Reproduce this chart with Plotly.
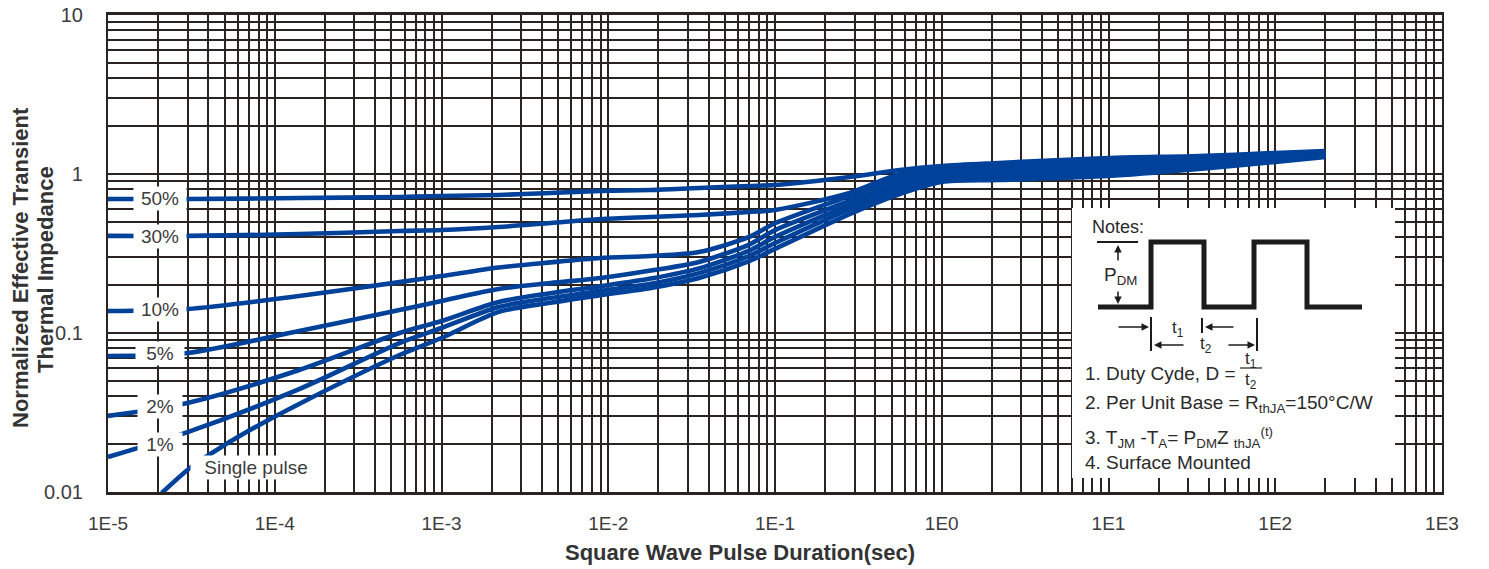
import plotly.graph_objects as go

# ---------------- data ----------------
t_common = [1e-5, 3e-5, 1.4e-4, 5.6e-4, 1e-3, 2.2e-3, 4.5e-3, 9e-3, 1.8e-2, 3.5e-2,
            7e-2, 0.1, 0.28, 0.56, 1, 2.2, 10, 35, 100, 200]

z_50 = [0.696, 0.696, 0.706, 0.717, 0.727, 0.738, 0.760, 0.782, 0.793, 0.817,
        0.840, 0.853, 0.957, 1.060, 1.123, 1.173, 1.261, 1.298, 1.355, 1.395]
z_30 = [0.408, 0.408, 0.419, 0.438, 0.444, 0.464, 0.492, 0.521, 0.537, 0.552,
        0.577, 0.594, 0.760, 1.000, 1.075, 1.123, 1.207, 1.261, 1.317, 1.375]
z_10 = [0.1375, 0.1416, 0.171, 0.209, 0.228, 0.258, 0.278, 0.296, 0.305, 0.323,
        0.402, 0.490, 0.727, 0.944, 1.030, 1.075, 1.156, 1.225, 1.279, 1.355]
z_5 = [0.0717, 0.0748, 0.103, 0.1396, 0.159, 0.189, 0.206, 0.222, 0.247, 0.280,
       0.360, 0.444, 0.678, 0.891, 0.986, 1.030, 1.107, 1.173, 1.261, 1.336]
z_2 = [0.0301, 0.0363, 0.0585, 0.100, 0.119, 0.1566, 0.178, 0.197, 0.220, 0.255,
       0.330, 0.402, 0.638, 0.841, 0.957, 0.986, 1.060, 1.139, 1.225, 1.317]
z_1 = [0.0166, 0.0238, 0.0444, 0.0865, 0.1075, 0.1457, 0.166, 0.184, 0.204, 0.238,
       0.305, 0.368, 0.600, 0.793, 0.930, 0.957, 1.015, 1.107, 1.207, 1.298]

t_single = [2.1e-5, 3.1e-5, 4.2e-5, 7.1e-5, 1.4e-4, 5.6e-4, 1e-3, 2.2e-3, 4.5e-3, 9e-3,
            1.8e-2, 3.5e-2, 7e-2, 0.1, 0.28, 0.56, 1, 2.2, 10, 35, 100, 200]
z_single = [0.00986, 0.01416, 0.0176, 0.0245, 0.0358, 0.0727, 0.093, 0.1357, 0.155, 0.173,
            0.192, 0.222, 0.283, 0.338, 0.560, 0.749, 0.891, 0.917, 0.971, 1.075, 1.190, 1.279]

series_names = ["50%", "30%", "10%", "5%", "2%", "1%", "Single pulse"]

x_tickvals = [1e-5, 1e-4, 1e-3, 1e-2, 1e-1, 1e0, 1e1, 1e2, 1e3]
x_ticktext = ["1E-5", "1E-4", "1E-3", "1E-2", "1E-1", "1E0", "1E1", "1E2", "1E3"]
y_tickvals = [0.01, 0.1, 1, 10]
y_ticktext = ["0.01", "0.1", "1", "10"]

# ---------------- styling ----------------
BLUE = "#00419a"
GRID = "#2b2320"
FONT = "Arial, Liberation Sans, sans-serif"
TXT = "#3c3c3c"

fig = go.Figure()
curves = [(t_common, z_50), (t_common, z_30), (t_common, z_10), (t_common, z_5),
          (t_common, z_2), (t_common, z_1), (t_single, z_single)]
for name, (tx, zy) in zip(series_names, curves):
    fig.add_trace(go.Scatter(x=tx, y=zy, mode="lines", name=name,
                             line=dict(color=BLUE, width=4.6, shape="spline", smoothing=0.8),
                             showlegend=False, hoverinfo="skip"))

minor_x = [m * 10.0 ** e for e in range(-5, 3) for m in range(2, 10)]
minor_y = [m * 10.0 ** e for e in range(-2, 1) for m in range(2, 10)]

fig.update_xaxes(type="log", range=[-5, 3], tickmode="array", tickvals=x_tickvals,
                 ticktext=x_ticktext, showgrid=True, gridcolor=GRID, gridwidth=2.2,
                 showline=True, linecolor=GRID, linewidth=3, mirror=True, ticks="",
                 ticklabelstandoff=12, tickfont=dict(family=FONT, size=19, color=TXT),
                 minor=dict(tickmode="array", tickvals=minor_x, showgrid=True,
                            gridcolor=GRID, gridwidth=2.2, ticks=""),
                 automargin=False, zeroline=False)
fig.update_yaxes(type="log", range=[-2, 1], tickmode="array", tickvals=y_tickvals,
                 ticktext=y_ticktext, showgrid=True, gridcolor=GRID, gridwidth=2.2,
                 showline=True, linecolor=GRID, linewidth=2.2, mirror=True, ticks="",
                 ticklabelstandoff=19, tickfont=dict(family=FONT, size=20, color=TXT),
                 minor=dict(tickmode="array", tickvals=minor_y, showgrid=True,
                            gridcolor=GRID, gridwidth=2.2, ticks=""),
                 automargin=False, zeroline=False)

def px(xp):
    return (xp - 108) / 1334.0

def py(yp):
    return (492 - yp) / 477.0

# axis titles
TITLE_FONT = dict(family=FONT, size=22, color="#333333")
fig.add_annotation(x=px(740), y=py(552), xref="paper", yref="paper", showarrow=False,
                   xanchor="center", yanchor="middle",
                   text="<b>Square Wave Pulse Duration(sec)</b>", font=TITLE_FONT)
fig.add_annotation(x=px(20), y=py(268), xref="paper", yref="paper", showarrow=False,
                   xanchor="center", yanchor="middle",
                   textangle=-90, text="<b>Normalized Effective Transient</b>", font=TITLE_FONT)
fig.add_annotation(x=px(45), y=py(270), xref="paper", yref="paper", showarrow=False,
                   xanchor="center", yanchor="middle",
                   textangle=-90, text="<b>Thermal Impedance</b>", font=TITLE_FONT)

# curve labels (white boxes on the lines) - positions in log10 units
label_pos = [(-4.688, -0.157, 50), (-4.688, -0.390, 50), (-4.688, -0.855, 50),
             (-4.688, -1.126, 46), (-4.688, -1.465, 42), (-4.688, -1.704, 42),
             (-4.110, -1.843, 128)]
for name, (lx, ly, w) in zip(series_names, label_pos):
    fig.add_annotation(x=lx, y=ly, xref="x", yref="y", text=name, showarrow=False,
                       bgcolor="white", width=w, height=21,
                       font=dict(family=FONT, size=19, color=TXT))

# ---------------- notes box ----------------
fig.add_shape(type="rect", xref="paper", yref="paper", x0=px(1072), x1=px(1395),
              y0=py(478), y1=py(208), fillcolor="white", line=dict(width=0), layer="above")

wave = [(1098, 307), (1151, 307), (1151, 242), (1204, 242), (1204, 307), (1254, 307),
        (1254, 242), (1307, 242), (1307, 307), (1362, 307)]
path = "M " + " L ".join(f"{px(a):.5f},{py(b):.5f}" for a, b in wave)
fig.add_shape(type="path", xref="paper", yref="paper", path=path,
              line=dict(color="#1c1c1c", width=5), layer="above")
# PDM top marker
fig.add_shape(type="line", xref="paper", yref="paper", x0=px(1097), x1=px(1138),
              y0=py(242), y1=py(242), line=dict(color="#1c1c1c", width=2), layer="above")
# vertical ticks for t1/t2
for (a, b0, b1) in [(1151, 317, 351), (1202, 318, 333), (1257, 318, 351)]:
    fig.add_shape(type="line", xref="paper", yref="paper", x0=px(a), x1=px(a),
                  y0=py(b0), y1=py(b1), line=dict(color="#1c1c1c", width=2), layer="above")
# fraction bar
fig.add_shape(type="line", xref="paper", yref="paper", x0=px(1240), x1=px(1262),
              y0=py(368), y1=py(368), line=dict(color="#333333", width=1.3), layer="above")

# arrows: (head_x, head_y, tail_dx, tail_dy)
arrows = [(1118, 245, 0, 17), (1118, 304, 0, -14), (1149, 327, -32, 0), (1205, 327, 30, 0),
          (1154, 345, 31, 0), (1255, 345, -28, 0)]
for (ax_, ay_, dx, dy) in arrows:
    fig.add_annotation(x=px(ax_), y=py(ay_), xref="paper", yref="paper", text="",
                       showarrow=True, arrowhead=2, arrowsize=1, arrowwidth=1.5,
                       arrowcolor="#1c1c1c", ax=dx, ay=dy)

note_font = dict(family=FONT, size=19, color="#2a2a2a")
small_font = dict(family=FONT, size=17, color="#2a2a2a")
texts = [
    (1090, 227, "Notes:", "left", dict(family=FONT, size=18, color="#2a2a2a")),
    (1120, 276, "P<sub>DM</sub>", "center", note_font),
    (1178, 329, "t<sub>1</sub>", "center", small_font),
    (1206, 345, "t<sub>2</sub>", "center", small_font),
    (1251, 360, "t<sub>1</sub>", "center", small_font),
    (1251, 381, "t<sub>2</sub>", "center", small_font),
    (1083, 373, "1. Duty Cyde, D =", "left", note_font),
    (1083, 404, "2. Per Unit Base = R<sub>thJA</sub>=150°C/W", "left", note_font),
    (1083, 437, "3. T<sub>JM</sub> -T<sub>A</sub>= P<sub>DM</sub>Z <sub>thJA</sub><sup>(t)</sup>", "left", note_font),
    (1083, 462, "4. Surface Mounted", "left", note_font),
]
for (a, b, s, anc, fnt) in texts:
    fig.add_annotation(x=px(a), y=py(b), xref="paper", yref="paper", text=s,
                       showarrow=False, xanchor=anc, yanchor="middle", font=fnt)

fig.update_layout(width=1489, height=569, margin=dict(l=108, r=47, t=15, b=77),
                  paper_bgcolor="white", plot_bgcolor="white")

fig.write_html("out.html")
